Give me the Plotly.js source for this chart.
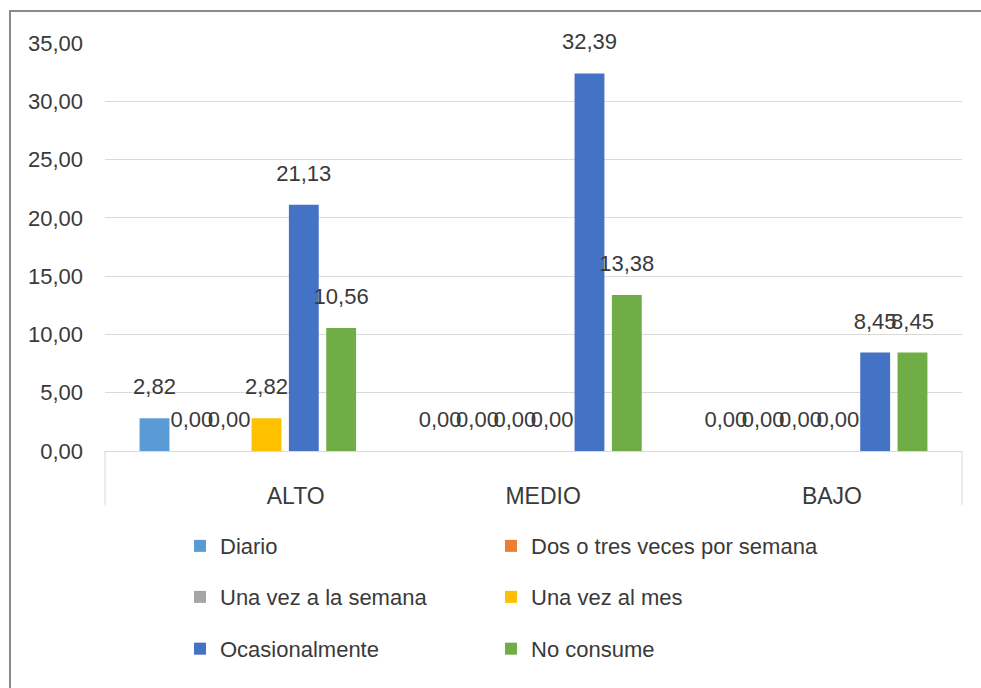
<!DOCTYPE html>
<html>
<head>
<meta charset="utf-8">
<script src="https://cdn.plot.ly/plotly-3.0.1.min.js"></script>
<style>
  html, body { margin: 0; padding: 0; background: #ffffff; overflow: hidden; }
  #chart { width: 981px; height: 688px; }
  #frame { position: absolute; left: 9px; top: 10px; width: 2000px; height: 2000px;
           border-left: 2px solid #8a8a8a; border-top: 2px solid #8a8a8a; pointer-events: none; }
</style>
</head>
<body>
<div id="chart"></div>
<div id="frame"></div>
<script>
// ---- data ----
const categories = ["ALTO", "MEDIO", "BAJO"];
const seriesNames = ["Diario", "Dos o tres veces por semana", "Una vez a la semana",
                     "Una vez al mes", "Ocasionalmente", "No consume"];
const diario        = [2.82, 0.00, 0.00];
const dosTres       = [0.00, 0.00, 0.00];
const unaSemana     = [0.00, 0.00, 0.00];
const unaMes        = [2.82, 0.00, 0.00];
const ocasional     = [21.13, 32.39, 8.45];
const noConsume     = [10.56, 13.38, 8.45];
const yTicks = [0, 5, 10, 15, 20, 25, 30, 35];

// ---- styling ----
const colors = ["#5b9bd5", "#ed7d31", "#a5a5a5", "#ffc000", "#4472c4", "#70ad47"];
const values = [diario, dosTres, unaSemana, unaMes, ocasional, noConsume];
const legendIds = ["legend", "legend2", "legend3", "legend4", "legend5", "legend6"];
const labelPad = [15, 3, 4];   // non-breaking spaces nudging the category labels as in the reference

const FONT = "Liberation Sans, Arial, sans-serif";
const TXT = "#3a3a3a";
const GAP = 0.216;

const traces = [];
values.forEach((v, i) => {
  traces.push({
    type: "bar", x: categories, y: v, name: seriesNames[i],
    marker: { color: colors[i] }, legend: legendIds[i],
    hoverinfo: "skip"
  });
});
values.forEach((v, i) => {
  traces.push({
    type: "scatter", mode: "markers+text", x: categories, y: v,
    texttemplate: "%{y:.2f}",
    textposition: "top center",
    textfont: { family: FONT, size: 22, color: TXT },
    marker: { size: 28, color: "rgba(0,0,0,0)" },
    showlegend: false, cliponaxis: false, hoverinfo: "skip"
  });
});

const legendBase = {
  orientation: "h", xref: "paper", yref: "paper", xanchor: "left", yanchor: "middle",
  font: { family: FONT, size: 22, color: TXT }, bgcolor: "rgba(0,0,0,0)"
};
const colX = [0.0875, 0.4504];
const rowY = [-0.233, -0.358, -0.485];

const layout = {
  width: 981, height: 688,
  margin: { l: 105, r: 19, t: 43, b: 237 },
  paper_bgcolor: "#ffffff", plot_bgcolor: "#ffffff",
  separators: ",.",
  barmode: "group", bargap: GAP, bargroupgap: 0.2,
  scattermode: "group", scattergap: GAP,
  font: { family: FONT, size: 22, color: TXT },
  xaxis: {
    type: "category", showgrid: false, zeroline: false,
    showline: true, linecolor: "#d9d9d9", linewidth: 1,
    ticks: "", ticklabelstandoff: 24,
    tickvals: categories,
    ticktext: categories.map((c, i) => "\u00a0".repeat(labelPad[i]) + c),
    tickfont: { family: FONT, size: 23, color: TXT }
  },
  yaxis: {
    range: [0, 35], tickvals: yTicks, tickformat: ".2f",
    showgrid: true, gridcolor: "#d9d9d9", gridwidth: 1,
    zeroline: false, showline: false, ticks: "", ticklabelstandoff: 21,
    tickfont: { family: FONT, size: 22, color: TXT }
  },
  showlegend: true,
  shapes: [
    { type: "line", xref: "paper", yref: "paper", x0: 0, x1: 0, y0: 0, y1: -0.132,
      line: { color: "#d9d9d9", width: 1 } },
    { type: "line", xref: "paper", yref: "paper", x0: 1, x1: 1, y0: 0, y1: -0.132,
      line: { color: "#d9d9d9", width: 1 } }
  ]
};
legendIds.forEach((id, i) => {
  layout[id] = Object.assign({}, legendBase, { x: colX[i % 2], y: rowY[Math.floor(i / 2)] });
});

Plotly.newPlot("chart", traces, layout, { staticPlot: true, displayModeBar: false });
</script>
</body>
</html>
